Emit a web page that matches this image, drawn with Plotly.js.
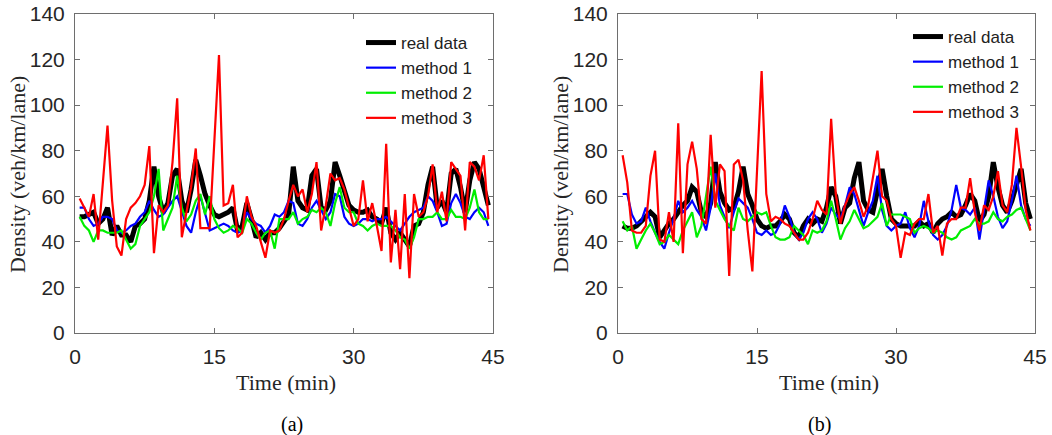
<!DOCTYPE html>
<html><head><meta charset="utf-8">
<script src="https://cdn.plot.ly/plotly-3.0.1.min.js"></script>
<style>html,body{margin:0;padding:0;background:#fff}#chart{width:1052px;height:435px}</style>
</head><body><div id="chart"></div>
<script>
// Time (min), sampled every 30 s
const time = [0.5,1,1.5,2,2.5,3,3.5,4,4.5,5,5.5,6,6.5,7,7.5,8,8.5,9,9.5,10,
10.5,11,11.5,12,12.5,13,13.5,14,14.5,15,15.5,16,16.5,17,17.5,18,18.5,19,19.5,20,
20.5,21,21.5,22,22.5,23,23.5,24,24.5,25,25.5,26,26.5,27,27.5,28,28.5,29,29.5,30,
30.5,31,31.5,32,32.5,33,33.5,34,34.5,35,35.5,36,36.5,37,37.5,38,38.5,39,39.5,40,
40.5,41,41.5,42,42.5,43,43.5,44,44.5];

// Panel (a)
const realA = [51,51,52,53,48,50,55,43,47,43, 43,40,47,48,50,58,73,60,53,57,
69,72,58,53,63,76,69,61,56,52, 51,52,53,55,45,47,57,50,42,44,
41,44,44,46,49,52,73,58,55,54, 69,72,55,54,58,75,69,62,56,54,
53,53,54,51,50,48,55,44,41,44, 41,38,47,48,53,65,73,55,58,53,
70,72,64,53,67,75,72,64,56];
const m1A = [55,55,50,47,48,51,51,50,45,44, 45,47,48,51,53,58,54,51,52,55,
58,60,53,47,44,53,60,52,45,46, 47,48,47,45,44,45,53,50,48,47,
44,47,52,51,53,58,57,48,47,50, 55,58,54,50,53,61,60,51,48,47,
48,50,50,49,50,50,51,49,47,45, 48,51,53,54,55,60,58,53,47,48,
57,61,57,51,50,53,55,53,47];
const m2A = [51,47,45,40,45,45,44,44,44,45, 41,37,39,47,50,53,60,72,45,50,
55,69,55,49,52,58,61,52,60,50, 46,44,45,47,46,44,50,48,44,41,
44,45,37,50,50,50,53,48,50,51, 54,53,55,53,47,57,64,55,53,53,
48,47,45,47,48,47,47,47,45,42, 41,37,42,50,50,51,51,53,50,50,
54,51,51,50,55,63,53,50,50];
const m3A = [59,55,51,61,41,66,91,58,38,34, 50,55,57,60,65,82,35,56,53,56,
75,103,42,53,64,81,46,46,46,84, 122,56,57,65,42,44,60,51,47,40,
33,45,44,45,50,58,65,60,63,53, 61,75,45,56,70,67,68,63,55,47,
50,67,49,57,47,36,83,31,54,28, 61,24,61,51,53,60,74,53,62,49,
75,72,69,45,75,73,67,78,50];

// Panel (b)
const realB = [47,46,46,47,49,51,53,51,42,45, 48,50,53,56,58,64,62,53,51,57,
75,62,57,54,55,62,73,61,56,50, 47,46,47,47,49,52,50,44,42,47,
50,48,50,49,55,64,60,48,55,57, 68,75,58,54,53,62,72,60,50,48,
47,47,47,47,49,47,48,44,48,50, 51,53,51,52,56,61,58,49,52,60,
75,64,56,53,58,66,72,57,50];
const m1B = [61,61,52,48,49,55,49,44,40,37, 44,50,58,53,55,58,54,51,45,55,
70,56,51,46,53,59,57,55,50,44, 43,45,43,44,48,56,51,44,41,44,
50,53,50,44,48,55,52,50,56,64, 61,54,47,53,58,69,54,47,45,47,
48,53,46,42,47,58,49,43,41,43, 47,54,65,55,54,52,55,41,54,67,
60,51,46,49,58,69,56,50,47];
const m2B = [49,45,47,37,41,45,48,44,39,40, 43,41,39,45,49,53,42,47,60,73,
58,54,50,47,45,55,50,49,51,53, 52,53,47,42,41,41,42,47,45,43,
39,45,44,45,49,58,50,41,46,49, 54,50,46,47,49,51,57,47,52,52,
52,51,50,44,46,47,46,44,45,44, 42,41,42,45,46,47,50,48,48,49,
53,50,49,51,52,54,55,50,45];
const m3B = [78,66,45,44,44,47,69,80,41,40, 53,40,92,35,74,84,72,50,48,87,
55,74,71,25,74,76,67,45,27,72, 115,61,49,51,50,48,47,44,41,41,
44,50,58,54,52,94,61,48,56,61, 64,58,51,56,69,80,60,58,50,47,
33,44,43,48,50,50,61,44,47,34, 48,50,50,55,55,68,53,45,56,54,
60,71,56,53,65,90,73,54,45];

const names = ['real data','method 1','method 2','method 3'];
const colors = ['#000000','#0000ff','#00ee00','#ff0000'];
const widths = [5,2.2,2.2,2.2];

const W = 1052, H = 435, mT = 14, mB = 102;
const px = x => x / W;
const py = y => (H - mB - y) / (H - mT - mB);

const traces = [];
[[realA,m1A,m2A,m3A],[realB,m1B,m2B,m3B]].forEach((set, p) => {
  set.forEach((vals, i) => {
    traces.push({
      x: time, y: vals, type: 'scatter', mode: 'lines',
      name: names[i],
      line: {color: colors[i], width: widths[i]},
      xaxis: p ? 'x2' : 'x', yaxis: p ? 'y2' : 'y',
      legend: p ? 'legend2' : 'legend',
      hoverinfo: 'skip'
    });
  });
});

const tickFont = {family: 'Liberation Sans, Arial, sans-serif', size: 21, color: '#262626'};
function xax(dom, anchor) {
  return {domain: dom, anchor: anchor, range: [0, 45], tickvals: [0, 15, 30, 45],
    ticks: 'inside', ticklen: 5, tickcolor: '#6e6e6e', showline: true, mirror: 'ticks',
    linecolor: '#6e6e6e', linewidth: 1, showgrid: false, zeroline: false,
    tickfont: tickFont, ticklabelstandoff: 5, fixedrange: true};
}
function yax(anchor) {
  return {domain: [0, 1], anchor: anchor, range: [0, 140], tickvals: [0,20,40,60,80,100,120,140],
    ticks: 'inside', ticklen: 5, tickcolor: '#6e6e6e', showline: true, mirror: 'ticks',
    linecolor: '#6e6e6e', linewidth: 1, showgrid: false, zeroline: false,
    tickfont: tickFont, ticklabelstandoff: 5, fixedrange: true};
}
const legFont = {family: 'Liberation Sans, Arial, sans-serif', size: 17, color: '#222'};
const serif = {family: 'Liberation Serif, Times New Roman, serif', size: 22, color: '#262626'};

const ann = (text, x, y, extra) => Object.assign({text, x: px(x), y: py(y), xref: 'paper', yref: 'paper',
  showarrow: false, xanchor: 'center', yanchor: 'middle', font: serif}, extra || {});

const layout = {
  width: W, height: H,
  margin: {l: 0, r: 0, t: mT, b: mB, pad: 0},
  paper_bgcolor: '#fff', plot_bgcolor: '#fff',
  xaxis: xax([px(75), px(493)], 'y'),
  yaxis: yax('x'),
  xaxis2: xax([px(618), px(1035)], 'y2'),
  yaxis2: yax('x2'),
  legend: {x: px(361), y: py(25), xanchor: 'left', yanchor: 'top', bgcolor: 'rgba(0,0,0,0)',
    borderwidth: 0, font: legFont, itemwidth: 30, tracegroupgap: 0},
  legend2: {x: px(908), y: py(19), xanchor: 'left', yanchor: 'top', bgcolor: 'rgba(0,0,0,0)',
    borderwidth: 0, font: legFont, itemwidth: 30, tracegroupgap: 0},
  annotations: [
    ann('Density (veh/km/lane)', 17, 175, {textangle: -90}),
    ann('Time (min)', 286, 382),
    ann('(a)', 292, 424, {font: Object.assign({}, serif, {size: 20, color: '#000'})}),
    ann('Density (veh/km/lane)', 560, 175, {textangle: -90}),
    ann('Time (min)', 829, 382),
    ann('(b)', 819, 424, {font: Object.assign({}, serif, {size: 20, color: '#000'})})
  ],
  showlegend: true
};

Plotly.newPlot('chart', traces, layout, {staticPlot: true, displayModeBar: false});
</script>
</body></html>
